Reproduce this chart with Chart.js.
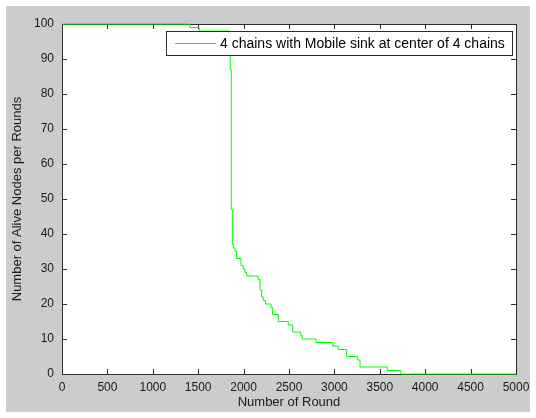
<!DOCTYPE html>
<html>
<head>
<meta charset="utf-8">
<script src="https://cdn.jsdelivr.net/npm/chart.js@4.4.1/dist/chart.umd.min.js"></script>
<style>
  html, body { margin: 0; padding: 0; background: #ffffff; }
  #wrap { position: absolute; left: 6px; top: 6px; width: 524px; height: 406px; background: #cccccc; }
</style>
</head>
<body>
<div id="wrap"><canvas id="aliveChart" width="524" height="406"></canvas></div>
<script>
// rounds where the number of alive nodes changes, and the new count
const rounds = [0, 1410, 1512, 1853, 1864, 1876, 1887, 1905, 1924, 1971, 1997, 2015, 2034,
  2162, 2181, 2199, 2217, 2243, 2302, 2320, 2382, 2492, 2541, 2629, 2646, 2797, 2981,
  3043, 3135, 3252, 3282, 3582, 3733, 5000];
const alive = [100, 99, 98, 87, 47, 37, 36, 35, 33, 31, 30, 29, 28,
  27, 24, 22, 21, 20, 19, 17, 15, 14, 12, 11, 10, 9, 8,
  7, 5, 4, 2, 1, 0, 0];
const seriesLabel = '4 chains with Mobile sink at center of 4 chains';
const xTicks = [0, 500, 1000, 1500, 2000, 2500, 3000, 3500, 4000, 4500, 5000];
const yTicks = [0, 10, 20, 30, 40, 50, 60, 70, 80, 90, 100];

const fontFamily = '"Liberation Sans", Arial, sans-serif';
const frameColor = '#2b2b2b';

// white plot area, frame and inward ticks like matlab
const matlabAxes = {
  id: 'matlabAxes',
  beforeDatasetsDraw(chart) {
    const ctx = chart.ctx;
    const a = chart.chartArea;
    const xs = chart.scales.x, ys = chart.scales.y;
    ctx.save();
    ctx.fillStyle = '#ffffff';
    ctx.fillRect(a.left, a.top, a.right - a.left, a.bottom - a.top);
    ctx.strokeStyle = frameColor;
    ctx.lineWidth = 1;
    ctx.strokeRect(a.left + 0.5, a.top + 0.5, a.right - a.left, a.bottom - a.top);
    ctx.beginPath();
    xTicks.forEach(v => {
      const px = Math.round(xs.getPixelForValue(v)) + 0.5;
      ctx.moveTo(px, a.bottom); ctx.lineTo(px, a.bottom - 5);
      ctx.moveTo(px, a.top); ctx.lineTo(px, a.top + 5);
    });
    yTicks.forEach(v => {
      const py = Math.round(ys.getPixelForValue(v)) + 0.5;
      ctx.moveTo(a.left, py); ctx.lineTo(a.left + 5, py);
      ctx.moveTo(a.right, py); ctx.lineTo(a.right - 5, py);
    });
    ctx.stroke();
    ctx.restore();
  },
  afterDatasetsDraw(chart) {
    // legend box in the upper right corner
    const ctx = chart.ctx;
    const a = chart.chartArea;
    const ds = chart.data.datasets[0];
    ctx.save();
    ctx.font = '14px ' + fontFamily;
    const tw = ctx.measureText(ds.label).width;
    const boxW = Math.round(9 + 41 + 4 + tw + 7);
    const boxH = 24;
    const right = a.right - 4;
    const top = a.top + 7;
    const left = right - boxW;
    ctx.fillStyle = '#ffffff';
    ctx.fillRect(left, top, boxW, boxH);
    ctx.strokeStyle = frameColor;
    ctx.lineWidth = 1;
    ctx.strokeRect(left + 0.5, top + 0.5, boxW, boxH);
    const midY = top + boxH / 2;
    ctx.strokeStyle = ds.borderColor;
    ctx.beginPath();
    ctx.moveTo(left + 9, Math.round(midY) + 0.5);
    ctx.lineTo(left + 50, Math.round(midY) + 0.5);
    ctx.stroke();
    ctx.fillStyle = '#000000';
    ctx.textBaseline = 'middle';
    ctx.fillText(ds.label, left + 54, midY + 1);
    ctx.restore();
  }
};

const ctx = document.getElementById('aliveChart').getContext('2d');
const aliveChart = new Chart(ctx, {
  type: 'line',
  data: {
    datasets: [{
      label: seriesLabel,
      data: rounds.map((r, i) => ({x: r, y: alive[i]})),
      borderColor: '#00ff00',
      borderWidth: 1,
      pointRadius: 0,
      stepped: true,
      fill: false,
      clip: false
    }]
  },
  options: {
    responsive: false,
    animation: false,
    layout: { padding: { top: 18, right: 14, left: 0, bottom: 0 } },
    plugins: {
      legend: { display: false },
      tooltip: { enabled: false }
    },
    scales: {
      x: {
        type: 'linear',
        min: 0,
        max: 5000,
        afterFit(scale) { scale.height = 38; scale.paddingLeft = 0; scale.paddingRight = 0; },
        afterBuildTicks(scale) { scale.ticks = xTicks.map(v => ({value: v})); },
        grid: { display: false, drawTicks: false },
        border: { display: false },
        ticks: { padding: 6, maxRotation: 0, autoSkip: false, color: '#1a1a1a', font: { family: fontFamily, size: 12 },
          callback: v => String(v) },
        title: { display: true, text: 'Number of Round', color: '#1a1a1a', padding: { top: 0, bottom: 2 }, font: { family: fontFamily, size: 13 } }
      },
      y: {
        min: 0,
        max: 100,
        afterFit(scale) { scale.width = 56; scale.paddingTop = 0; scale.paddingBottom = 0; },
        afterBuildTicks(scale) { scale.ticks = yTicks.map(v => ({value: v})); },
        grid: { display: false, drawTicks: false },
        border: { display: false },
        ticks: { padding: 8, autoSkip: false, color: '#1a1a1a', font: { family: fontFamily, size: 12 },
          callback: v => String(v) },
        title: { display: true, text: 'Number of Alive Nodes per Rounds', color: '#1a1a1a', padding: { top: 4, bottom: 0 }, font: { family: fontFamily, size: 13 } }
      }
    }
  },
  plugins: [matlabAxes]
});
</script>
</body>
</html>
